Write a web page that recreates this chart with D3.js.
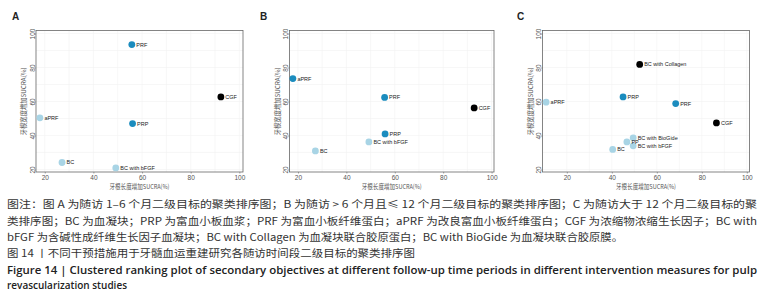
<!DOCTYPE html>
<html>
<head>
<meta charset="utf-8">
<script src="https://cdn.jsdelivr.net/npm/d3@7"></script>
<style>
  body { margin: 0; background: #fff; }
  svg { display: block; }
</style>
</head>
<body>
<div id="chart"></div>
<script>
// panel A: follow-up 1-6 months
const namesA = ["PRF", "CGF", "aPRF", "PRP", "BC", "BC with bFGF"];
const xA = [55.8, 92.4, 18.0, 56.1, 27.1, 49.2];
const yA = [93.5, 62.7, 50.4, 47.0, 24.1, 20.9];
const groupA = ["mid", "dark", "light", "mid", "light", "light"];

// panel B: > 6 and <= 12 months
const namesB = ["aPRF", "PRF", "CGF", "PRP", "BC with bFGF", "BC"];
const xB = [17.9, 55.8, 92.8, 56.0, 49.3, 27.2];
const yB = [73.5, 62.4, 56.2, 40.9, 36.2, 30.9];
const groupB = ["mid", "mid", "dark", "mid", "light", "light"];

// panel C: > 12 months
const namesC = ["BC with Collagen", "PRP", "aPRF", "PRF", "CGF", "BC with BioGide", "PP", "BC with bFGF", "BC"];
const xC = [52.4, 45.0, 10.8, 68.4, 86.5, 49.5, 46.7, 49.5, 40.4];
const yC = [81.8, 62.7, 59.6, 58.8, 47.4, 38.6, 36.2, 33.9, 31.8];
const groupC = ["dark", "mid", "light", "mid", "dark", "light", "light", "light", "light"];

const xTicks = [20, 40, 60, 80, 100];
const yTicks = [20, 40, 60, 80, 100];
const xTitle = "牙根长度增加SUCRA(%)";
const yTitle = "牙根宽度增加SUCRA(%)";

const captionLines = [
    "图注：图 A 为随访 1–6 个月二级目标的聚类排序图；B 为随访 > 6 个月且≤ 12 个月二级目标的聚类排序图；C 为随访大于 12 个月二级目标的聚",
    "类排序图；BC 为血凝块；PRP 为富血小板血浆；PRF 为富血小板纤维蛋白；aPRF 为改良富血小板纤维蛋白；CGF 为浓缩物浓缩生长因子；BC with",
    "bFGF 为含碱性成纤维生长因子血凝块；BC with Collagen 为血凝块联合胶原蛋白；BC with BioGide 为血凝块联合胶原膜。",
    "图 14 丨不同干预措施用于牙髓血运重建研究各随访时间段二级目标的聚类排序图",
    "Figure 14  |  Clustered ranking plot of secondary objectives at different follow-up time periods in different intervention measures for pulp",
    "revascularization studies"
];

const colors = { dark: "#000000", mid: "#1b8cbe", light: "#a8d4e5" };

const width = 765, height = 297;
const svg = d3.select("#chart").append("svg")
    .attr("width", width)
    .attr("height", height);

const panels = [
    { letter: "A", lx: 12, box: [36, 243], xDomain: [16.4, 101.5], names: namesA, xs: xA, ys: yA, groups: groupA },
    { letter: "B", lx: 260, box: [289.5, 494], xDomain: [16.5, 101], names: namesB, xs: xB, ys: yB, groups: groupB },
    { letter: "C", lx: 517, box: [542.5, 749.5], xDomain: [9.2, 101.2], names: namesC, xs: xC, ys: yC, groups: groupC }
];
const plotTop = 30.5, plotBottom = 172;
const yDomain = [18.5, 101.8];

for (let p of panels) {
    let x = d3.scaleLinear().domain(p.xDomain).range(p.box);
    let y = d3.scaleLinear().domain(yDomain).range([plotBottom, plotTop]);
    let g = svg.append("g");

    // faint grid
    let gridX = d3.range(20, 101, 10), gridY = d3.range(20, 101, 10);
    g.append("g").selectAll("line").data(gridX).join("line")
        .attr("x1", d => x(d)).attr("x2", d => x(d))
        .attr("y1", plotTop).attr("y2", plotBottom)
        .attr("stroke", "#f2f2f2").attr("stroke-width", 0.6);
    g.append("g").selectAll("line").data(gridY).join("line")
        .attr("x1", p.box[0]).attr("x2", p.box[1])
        .attr("y1", d => y(d)).attr("y2", d => y(d))
        .attr("stroke", "#f2f2f2").attr("stroke-width", 0.6);

    // axes
    let xAxis = g.append("g")
        .attr("transform", `translate(0, ${plotBottom})`)
        .call(d3.axisBottom(x).tickValues(xTicks).tickSize(1.5).tickPadding(2));
    let yAxis = g.append("g")
        .attr("transform", `translate(${p.box[0]}, 0)`)
        .call(d3.axisLeft(y).tickValues(yTicks).tickSize(1.5).tickPadding(2));
    for (let a of [xAxis, yAxis]) {
        a.select(".domain").remove();
        a.selectAll(".tick line").attr("stroke", "#666").attr("stroke-width", 0.6);
        a.selectAll(".tick text")
            .attr("font-family", "Liberation Sans, Arial, sans-serif")
            .attr("font-size", 6.5)
            .attr("fill", "#555");
    }
    yAxis.selectAll(".tick text")
        .attr("text-anchor", "middle")
        .attr("x", null)
        .attr("dy", null)
        .attr("transform", "translate(-1.5, 0) rotate(-90)");

    // panel box
    g.append("rect")
        .attr("x", p.box[0]).attr("y", plotTop)
        .attr("width", p.box[1] - p.box[0]).attr("height", plotBottom - plotTop)
        .attr("fill", "none").attr("stroke", "#666").attr("stroke-width", 0.8);

    // axis titles
    g.append("text")
        .attr("x", (p.box[0] + p.box[1]) / 2).attr("y", 189)
        .attr("text-anchor", "middle")
        .attr("font-family", "Noto Sans CJK SC, sans-serif")
        .attr("font-size", 6.5).attr("fill", "#555")
        .attr("textLength", 60).attr("lengthAdjust", "spacingAndGlyphs")
        .text(xTitle);
    g.append("text")
        .attr("transform", `translate(${p.box[0] - 10}, ${(plotTop + plotBottom) / 2}) rotate(-90)`)
        .attr("text-anchor", "middle")
        .attr("font-family", "Noto Sans CJK SC, sans-serif")
        .attr("font-size", 6.5).attr("fill", "#555")
        .attr("textLength", 68).attr("lengthAdjust", "spacingAndGlyphs")
        .text(yTitle);

    // panel letter
    g.append("text")
        .attr("x", p.lx).attr("y", 20)
        .attr("font-family", "Liberation Sans, Arial, sans-serif")
        .attr("font-weight", "bold").attr("font-size", 10)
        .attr("fill", "#222")
        .text(p.letter);

    // points and labels
    let idx = d3.range(p.names.length);
    g.append("g").selectAll("circle").data(idx).join("circle")
        .attr("cx", i => x(p.xs[i])).attr("cy", i => y(p.ys[i]))
        .attr("r", 3.4)
        .attr("fill", i => colors[p.groups[i]]);
    g.append("g").selectAll("text").data(idx).join("text")
        .attr("x", i => x(p.xs[i]) + 4.5).attr("y", i => y(p.ys[i]) + 2)
        .attr("font-family", "Liberation Sans, Arial, sans-serif")
        .attr("font-size", 5.5).attr("fill", "#222")
        .text(i => p.names[i]);
}

// caption
const capBase = [208, 224.5, 240.5, 256.5, 274, 288.5];
const capWidth = [750, 750, 616, 408, 750, 120];
captionLines.forEach((line, i) => {
    let english = i >= 4;
    svg.append("text")
        .attr("x", 7).attr("y", capBase[i])
        .attr("font-family", english ? "Open Sans, Noto Sans, sans-serif" : "Noto Sans CJK SC, sans-serif")
        .attr("font-size", 10)
        .attr("font-weight", english ? 600 : 400)
        .attr("fill", english ? "#222" : "#333")
        .attr("textLength", capWidth[i])
        .attr("lengthAdjust", "spacingAndGlyphs")
        .text(line);
});
</script>
</body>
</html>
